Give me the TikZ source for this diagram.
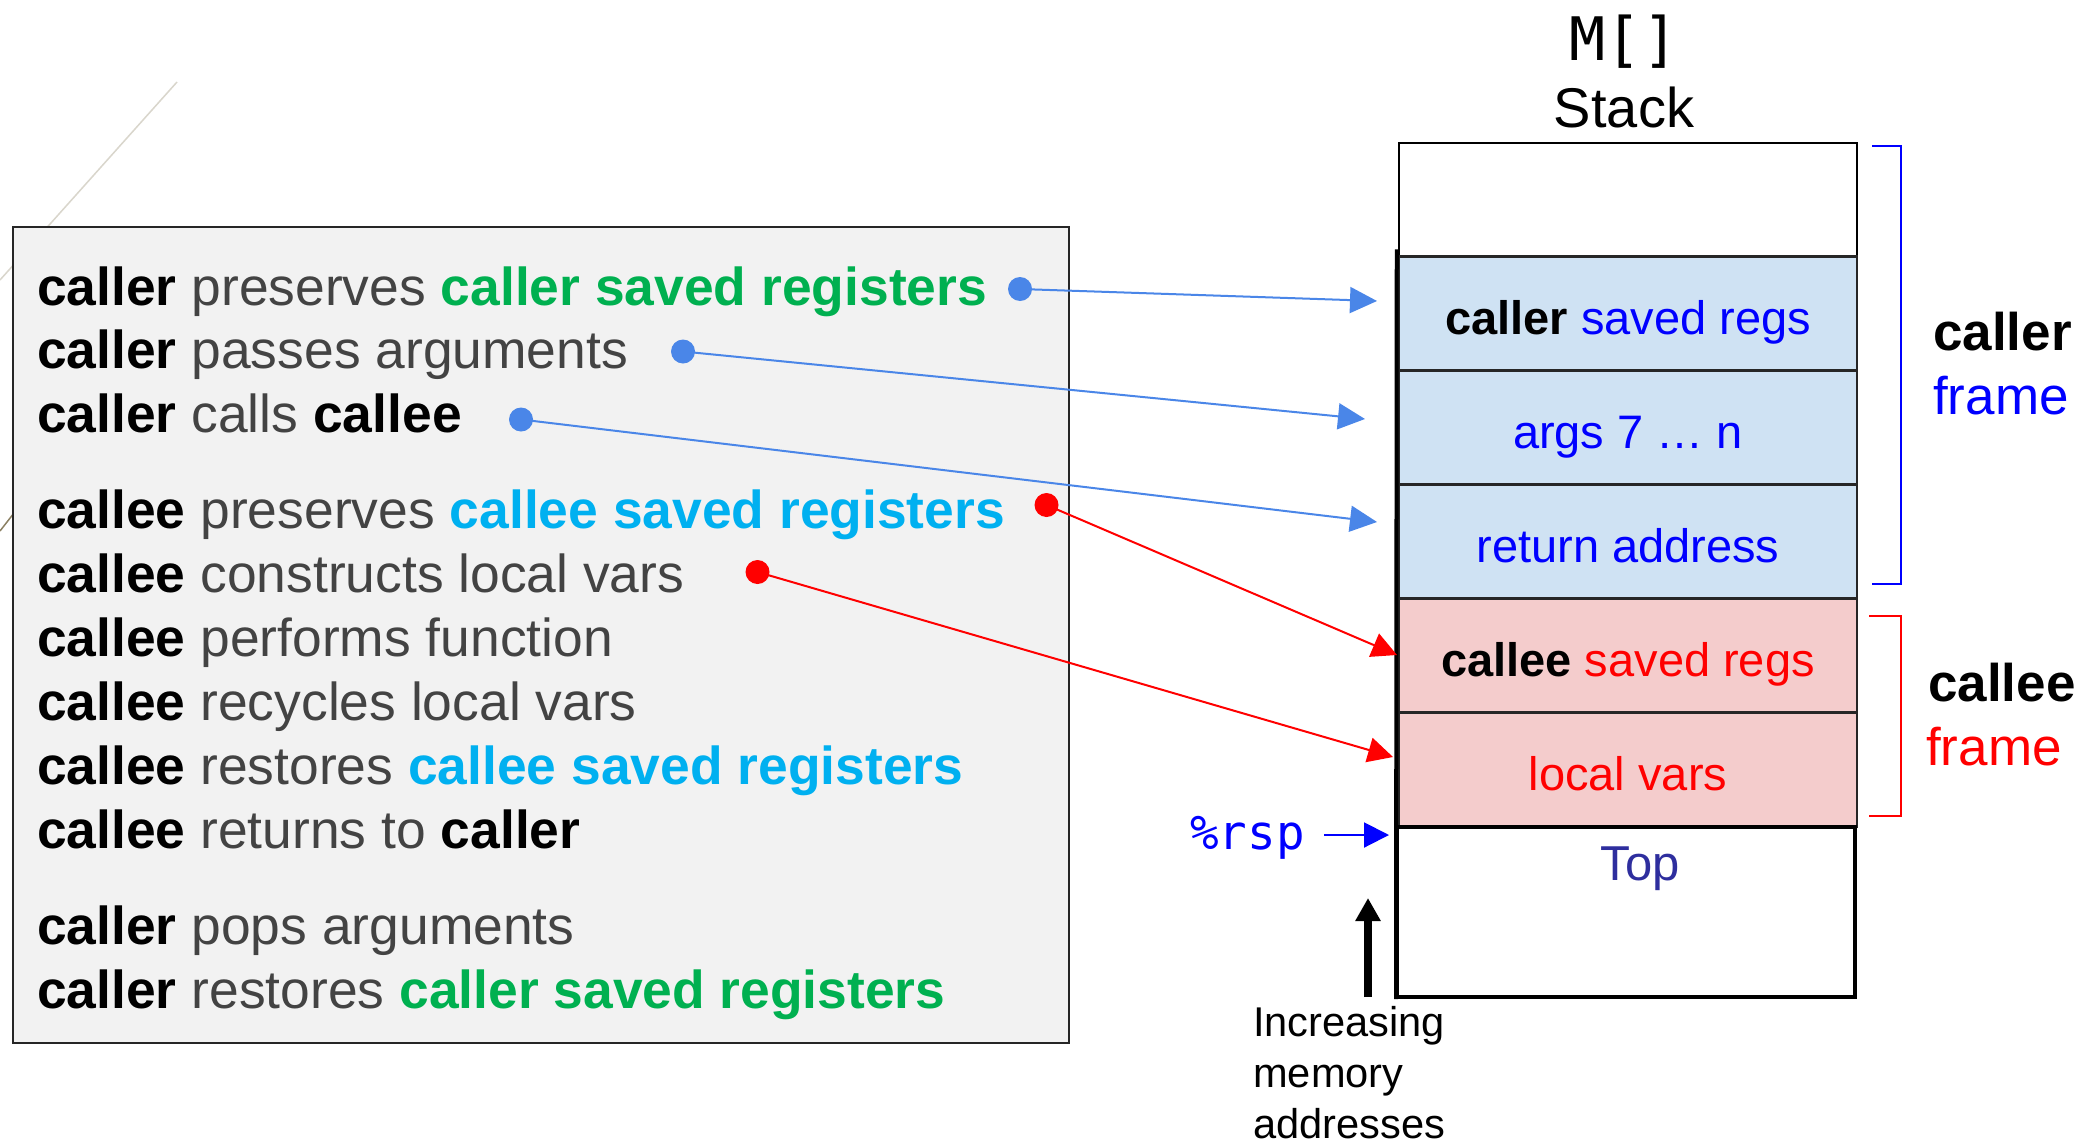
\documentclass[tikz,border=0pt]{standalone}
\usepackage{fontspec}
\setmainfont{Liberation Sans}
\newfontfamily\dvmono{DejaVu Sans Mono}
\usetikzlibrary{arrows.meta}
\definecolor{txtgray}{HTML}{434343}
\definecolor{cgreen}{HTML}{00B050}
\definecolor{ccyan}{HTML}{00B0F0}
\definecolor{arrblue}{HTML}{4A86E8}
\definecolor{boxfill}{HTML}{F2F2F2}
\definecolor{rowblue}{HTML}{CFE2F3}
\definecolor{rowred}{HTML}{F4CCCC}
\definecolor{topblue}{HTML}{2E2E9E}
\definecolor{decoA}{HTML}{D9D6CC}
\definecolor{decoB}{HTML}{8B8062}
\newcommand\KWD[1]{{\bfseries\color{black}#1}}
\newcommand\GRN[1]{{\bfseries\color{cgreen}#1}}
\newcommand\CYN[1]{{\bfseries\color{ccyan}#1}}
\begin{document}
\begin{tikzpicture}[x=1pt,y=-1pt,
 listline/.style={anchor=base west, inner sep=0pt, font=\fontsize{53.4}{64}\selectfont, text=txtgray},
 rowbox/.style={draw=black!85, line width=2.5pt, minimum width=458pt, minimum height=114pt, inner sep=0pt, text height=41pt, text depth=0pt, font=\fontsize{47}{56}\selectfont},
 bdot/.style={circle, fill=arrblue, minimum size=24pt, inner sep=0pt},
 rdot/.style={circle, fill=red, minimum size=24pt, inner sep=0pt},
 barrow/.style={draw=arrblue, line width=2pt, -{Triangle[length=27pt,width=26pt]}},
 rarrow/.style={draw=red, line width=2pt, -{Triangle[length=25pt,width=25pt]}},
 framelbl/.style={anchor=base west, inner sep=0pt, font=\fontsize{53}{64}\selectfont}
]
\useasboundingbox (0,0) rectangle (2095,1143);
\fill[white] (0,0) rectangle (2095,1143);

% decorative background lines
\draw[decoA, line width=1.5pt] (177,82) -- (0,280);
\draw[decoB, line width=1.5pt] (14,513) -- (0,531);

% left list box
\node[draw=black!85, line width=2pt, fill=boxfill, minimum width=1056pt, minimum height=816pt, inner sep=0pt] (listbox) at (541,635) {};

\node[listline] (l1) at (37,305) {\KWD{caller} preserves \GRN{caller saved registers}};
\node[listline] (l2) at (37,368) {\KWD{caller} passes arguments};
\node[listline] (l3) at (37,432) {\KWD{caller} calls \KWD{callee}};
\node[listline] (l4) at (37,528) {\KWD{callee} preserves \CYN{callee saved registers}};
\node[listline] (l5) at (37,592) {\KWD{callee} constructs local vars};
\node[listline] (l6) at (37,656) {\KWD{callee} performs function};
\node[listline] (l7) at (37,720) {\KWD{callee} recycles local vars};
\node[listline] (l8) at (37,784) {\KWD{callee} restores \CYN{callee saved registers}};
\node[listline] (l9) at (37,848) {\KWD{callee} returns to \KWD{caller}};
\node[listline] (l10) at (37,944) {\KWD{caller} pops arguments};
\node[listline] (l11) at (37,1008) {\KWD{caller} restores \GRN{caller saved registers}};

% title
\node[inner sep=0pt, anchor=base, font=\dvmono\fontsize{60}{64}\selectfont] (mlbl) at (1624,60) {M[]};
\node[inner sep=0pt, anchor=base, font=\fontsize{56}{64}\selectfont] (stacklbl) at (1624,127) {Stack};

% stack
\node[rowbox, fill=white, draw=black, line width=2pt, minimum height=113.5pt] (r0) at (1628,199.75) {};
\node[rowbox, fill=rowblue] (r1) at (1628,313.5) {\textbf{caller} \textcolor{blue}{saved regs}};
\node[rowbox, fill=rowblue, text=blue] (r2) at (1628,427.5) {args 7 … n};
\node[rowbox, fill=rowblue, text=blue] (r3) at (1628,541.5) {return address};
\node[rowbox, fill=rowred] (r4) at (1628,655.5) {\textbf{callee} \textcolor{red}{saved regs}};
\node[rowbox, fill=rowred, text=red] (r5) at (1628,769.5) {local vars};
\node[draw=black, line width=4pt, fill=white, minimum width=458pt, minimum height=170pt, inner sep=0pt] (r6) at (1626,912) {};
\draw[line width=4pt] ([yshift=6pt,xshift=-1pt]r1.north west) -- ([xshift=1pt]r6.south west);
\node[inner sep=0pt, anchor=base, text=topblue, font=\fontsize{49}{56}\selectfont] (toplbl) at (1640,880) {Top};

% frame brackets and labels
\draw[blue, line width=2pt] (1872,146) -- (1901,146) -- (1901,584) -- (1872,584);
\draw[red, line width=2pt] (1869,616) -- (1901,616) -- (1901,816) -- (1869,816);
\node[framelbl] (callerlbl) at (1933,350) {\textbf{caller}};
\node[framelbl, text=blue] (callerfr) at (1933,414) {frame};
\node[framelbl] (calleelbl) at (1928,701) {\textbf{callee}};
\node[framelbl, text=red] (calleefr) at (1926,765) {frame};

% dots
\node[bdot] (d1) at (1020,289) {};
\node[bdot] (d2) at (683,351.5) {};
\node[bdot] (d3) at (521,419.5) {};
\node[rdot] (d4) at (1046.5,505) {};
\node[rdot] (d5) at (757.5,572) {};

\coordinate (t1) at (1377,301);
\coordinate (t2) at (1365,419);
\coordinate (t3) at (1377,522);
\coordinate (t4) at (1397,655);
\coordinate (t5) at (1393,757);

\draw[barrow] (d1.center) -- (t1);
\draw[barrow] (d2.center) -- (t2);
\draw[barrow] (d3.center) -- (t3);
\draw[rarrow] (d4.center) -- (t4);
\draw[rarrow] (d5.center) -- (t5);

% %rsp pointer
\node[inner sep=0pt, anchor=base west, text=blue, font=\dvmono\fontsize{47.5}{56}\selectfont] (rsp) at (1190,849) {\%rsp};
\coordinate (rspS) at (1324,835);
\coordinate (rspE) at (1389,835);
\draw[blue, line width=2pt, -{Triangle[length=25pt,width=25pt]}] (rspS) -- (rspE);

% increasing memory addresses
\node[inner sep=0pt, anchor=north west, align=left, font=\fontsize{41.6}{51}\selectfont] (inc) at (1253,1006) {Increasing\\memory\\addresses};
\coordinate (incS) at (1368,997);
\coordinate (incE) at (1368,898);
\draw[line width=8pt, -{Triangle[length=23pt,width=24pt]}] (incS) -- (incE);
\end{tikzpicture}
\end{document}
